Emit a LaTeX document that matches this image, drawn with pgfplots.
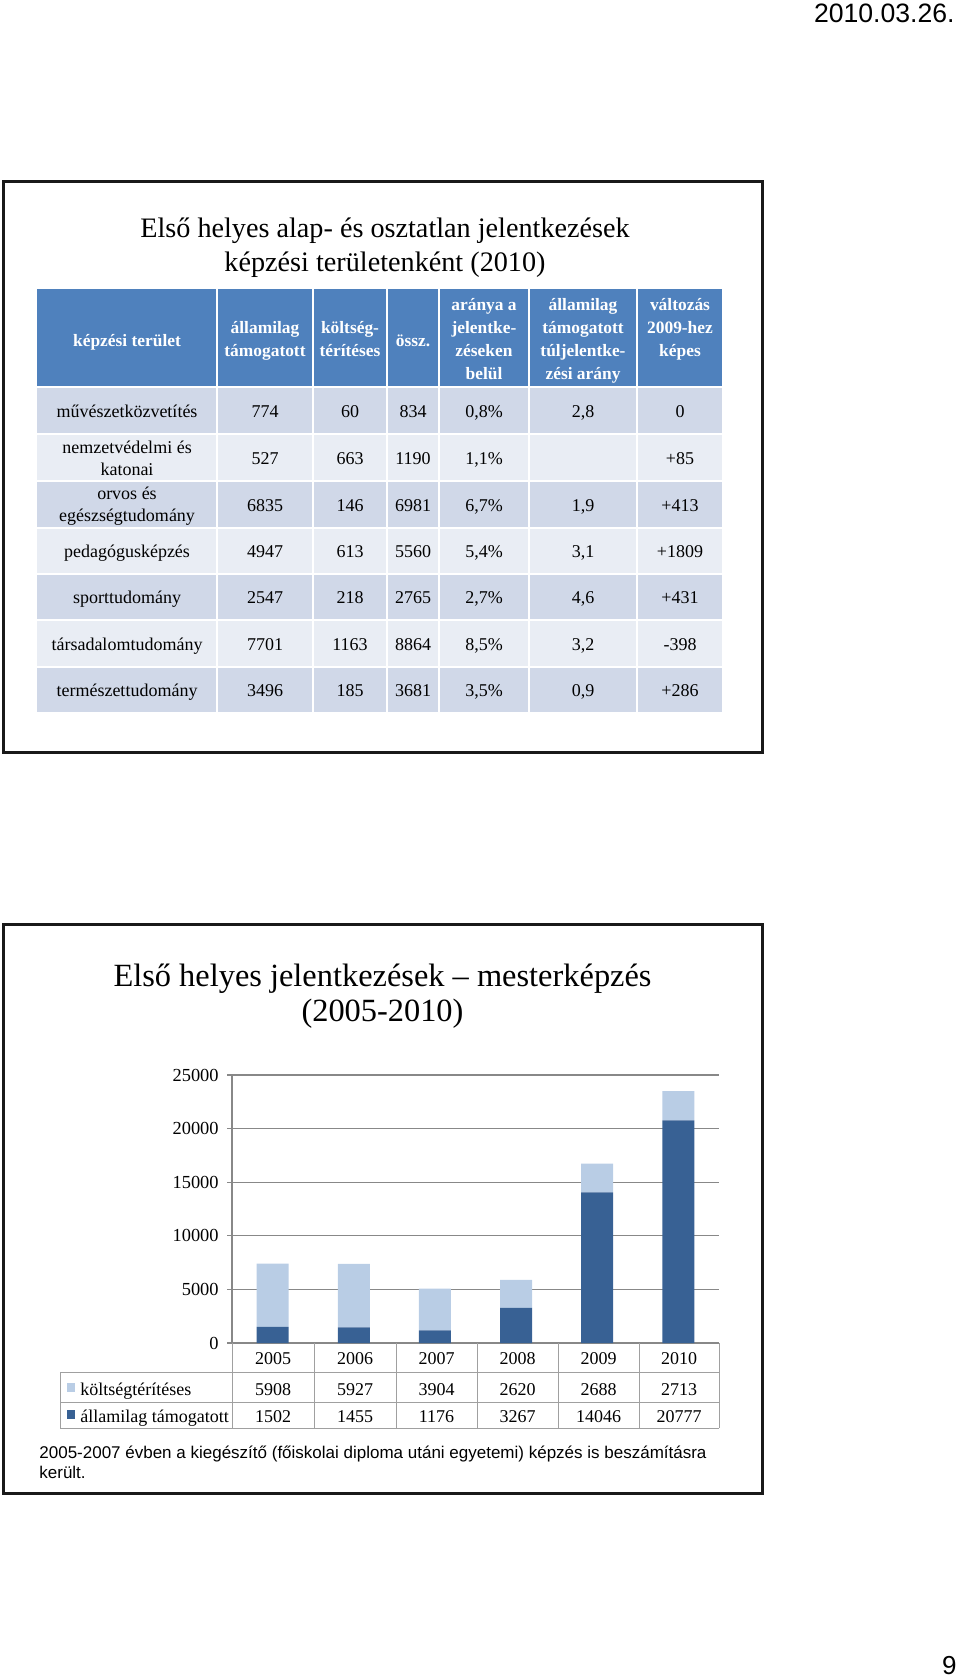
\documentclass[border=0pt]{standalone}
\usepackage{fontspec}
\setmainfont{Liberation Serif}
\newfontfamily\arial{Liberation Sans}
\usepackage{pgfplots}
\pgfplotsset{compat=1.18}
\definecolor{hdrblue}{HTML}{4F81BD}
\definecolor{rowdark}{HTML}{D0D8E8}
\definecolor{rowlight}{HTML}{E9EDF4}
\definecolor{bardark}{HTML}{386194}
\definecolor{barlight}{HTML}{B9CDE5}
\definecolor{gridgray}{HTML}{888888}
\definecolor{tblgray}{HTML}{A0A0A0}
\newcommand\hd[3]{\node[anchor=base, inner sep=0pt, text=white, font=\bfseries\fontsize{8.7}{10}\selectfont] at (#1,#2) {#3};}
\newcommand\tx[3]{\node[anchor=base, inner sep=0pt, font=\fontsize{9}{11}\selectfont] at (#1,#2) {#3};}
\newcommand\trow[7]{\tx{265}{#1}{#2}\tx{350}{#1}{#3}\tx{413}{#1}{#4}\tx{484}{#1}{#5}\tx{583}{#1}{#6}\tx{680}{#1}{#7}}
\begin{document}
\begin{tikzpicture}
\begin{scope}[x=0.5pt,y=-0.5pt]
\path (0,0) rectangle (960,1680);
\node[anchor=base east, inner sep=0pt, font=\arial\fontsize{13.3}{16}\selectfont] at (955,23) {2010.03.26.};
\node[anchor=base east, inner sep=0pt, font=\arial\fontsize{13}{15}\selectfont] at (957,1674) {9};
% ---- slide 1 ----
\node[anchor=base, inner sep=0pt, font=\fontsize{14.1}{17}\selectfont] at (385,238) {Első helyes alap- és osztatlan jelentkezések};
\node[anchor=base, inner sep=0pt, font=\fontsize{14.1}{17}\selectfont] at (385,271) {képzési területenként (2010)};
\fill[hdrblue] (37,289) rectangle (722,386);
\foreach \t/\b/\c in {388/433/rowdark, 435/480/rowlight, 482/527/rowdark, 529/573/rowlight, 575/619/rowdark, 621/666/rowlight, 668/712/rowdark}
  \fill[\c] (37,\t) rectangle (722,\b);
\foreach \x in {217,313,387,439,529,637} \draw[white, line width=0.8pt] (\x,289) -- (\x,712);
\hd{127}{346}{képzési terület}
\hd{265}{333}{államilag}\hd{265}{356}{támogatott}
\hd{350}{333}{költség-}\hd{350}{356}{térítéses}
\hd{413}{346}{össz.}
\hd{484}{310}{aránya a}\hd{484}{333}{jelentke-}\hd{484}{356}{zéseken}\hd{484}{379}{belül}
\hd{583}{310}{államilag}\hd{583}{333}{támogatott}\hd{583}{356}{túljelentke-}\hd{583}{379}{zési arány}
\hd{680}{310}{változás}\hd{680}{333}{2009-hez}\hd{680}{356}{képes}
\tx{127}{417}{művészetközvetítés}
\trow{417}{774}{60}{834}{0,8\%}{2,8}{0}
\tx{127}{453}{nemzetvédelmi és}\tx{127}{475}{katonai}
\trow{464}{527}{663}{1190}{1,1\%}{}{+85}
\tx{127}{499}{orvos és}\tx{127}{521}{egészségtudomány}
\trow{511}{6835}{146}{6981}{6,7\%}{1,9}{+413}
\tx{127}{557}{pedagógusképzés}
\trow{557}{4947}{613}{5560}{5,4\%}{3,1}{+1809}
\tx{127}{603}{sporttudomány}
\trow{603}{2547}{218}{2765}{2,7\%}{4,6}{+431}
\tx{127}{650}{társadalomtudomány}
\trow{650}{7701}{1163}{8864}{8,5\%}{3,2}{-398}
\tx{127}{696}{természettudomány}
\trow{696}{3496}{185}{3681}{3,5\%}{0,9}{+286}
\draw[line width=1.5pt, black!90] (3,182) rectangle (762,752);
\end{scope}
% ---- chart ----
\begin{axis}[at={(116pt,-671.5pt)}, anchor=south west, scale only axis,
  width=243.5pt, height=134pt, ybar stacked, bar width=16pt,
  xmin=-0.5, xmax=5.5, ymin=0, ymax=25000, xtick=\empty,
  ytick={0,5000,10000,15000,20000,25000},
  ymajorgrids, grid style={gridgray, line width=0.6pt},
  axis y line=left, axis x line=bottom,
  axis line style={-, gridgray, line width=0.6pt},
  tick align=outside, major tick length=2.5pt,
  ytick style={gridgray, line width=0.6pt},
  scaled y ticks=false,
  yticklabel style={font=\fontsize{9.2}{11}\selectfont, inner sep=0pt, xshift=-4pt},
  /pgf/number format/assume math mode=true, /pgf/number format/1000 sep={},
  clip=false]
\addplot[fill=bardark, draw=none] coordinates {(0,1502) (1,1455) (2,1176) (3,3267) (4,14046) (5,20777)};
\addplot[fill=barlight, draw=none] coordinates {(0,5908) (1,5927) (2,3904) (3,2620) (4,2688) (5,2713)};
\end{axis}
\begin{scope}[x=0.5pt,y=-0.5pt]
\draw[tblgray, line width=0.5pt] (60,1372) -- (719,1372) (60,1402) -- (719,1402) (60,1428) -- (719,1428) (60,1372) -- (60,1428);
\foreach \x in {232,314,396,477,558,639,719} \draw[tblgray, line width=0.5pt] (\x,1343) -- (\x,1428);
\foreach \x/\a/\b/\c in {273/2005/5908/1502, 355/2006/5927/1455, 436.5/2007/3904/1176, 517.5/2008/2620/3267, 598.5/2009/2688/14046, 679/2010/2713/20777} {
  \tx{\x}{1364}{\a}\tx{\x}{1395}{\b}\tx{\x}{1422}{\c}}
\fill[barlight] (67,1383) rectangle (75,1392);
\fill[bardark] (67,1410) rectangle (75,1419);
\node[anchor=base west, inner sep=0pt, font=\fontsize{9}{11}\selectfont] at (80,1395) {költségtérítéses};
\node[anchor=base west, inner sep=0pt, font=\fontsize{9}{11}\selectfont] at (80,1422) {államilag támogatott};
\node[anchor=base west, inner sep=0pt, font=\arial\fontsize{8.5}{10}\selectfont] at (39,1458) {2005-2007 évben a kiegészítő (főiskolai diploma utáni egyetemi) képzés is beszámításra};
\node[anchor=base west, inner sep=0pt, font=\arial\fontsize{8.5}{10}\selectfont] at (39,1478) {került.};
\node[anchor=base, inner sep=0pt, font=\fontsize{16.2}{20}\selectfont] at (382.5,986) {Első helyes jelentkezések – mesterképzés};
\node[anchor=base, inner sep=0pt, font=\fontsize{16.2}{20}\selectfont] at (382.5,1021) {(2005-2010)};
\draw[line width=1.5pt, black!90] (3,924) rectangle (762,1493);
\end{scope}
\end{tikzpicture}
\end{document}
